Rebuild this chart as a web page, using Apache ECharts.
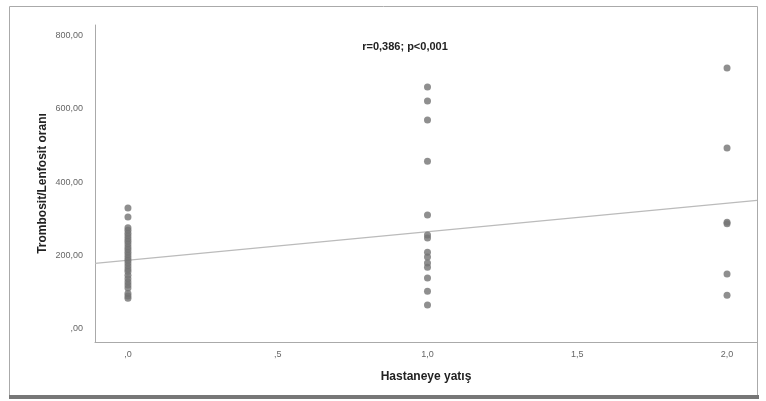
<!DOCTYPE html>
<html>
<head>
<meta charset="utf-8">
<script src="https://cdn.jsdelivr.net/npm/echarts@6/dist/echarts.min.js"></script>
<style>
	html, body { margin: 0; padding: 0; background: #fff; }
	#chart { width: 766px; height: 401px; }
</style>
</head>
<body>
<div id="chart"></div>
<script>
	// değerler
	var group0 = [329, 304, 275, 268, 260, 252, 245, 238, 230, 222, 215, 208, 200, 193, 186, 178, 170, 162, 155, 145, 135, 126, 118, 110, 95, 88, 82];
	var group1 = [660, 622, 570, 457, 310, 255, 247, 208, 195, 178, 167, 137, 101, 63];
	var group2 = [712, 493, 290, 286, 148, 90];
	var xTicks = [0, 0.5, 1, 1.5, 2];
	var yTicks = [0, 200, 400, 600, 800];
	var fitIntercept = 186;
	var fitSlope = 78;
	var xMin = -0.11, xMax = 2.1;

	var points = [];
	group0.forEach(function (v) { points.push([0, v]); });
	group1.forEach(function (v) { points.push([1, v]); });
	group2.forEach(function (v) { points.push([2, v]); });

	function spss(v, d) {
		var s = v.toFixed(d).replace('.', ',');
		if (s.indexOf('0,') === 0) s = s.substring(1);
		return s;
	}

	var myChart = echarts.init(document.getElementById('chart'));
	var option = {
		backgroundColor: '#fff',
		animation: false,
		title: {
			text: 'r=0,386; p<0,001',
			left: 400,
			top: 36,
			textAlign: 'center',
			textStyle: { fontFamily: 'Liberation Sans', fontSize: 11, fontWeight: 'bold', color: '#222' }
		},
		grid: { left: 95, right: 9, top: 25, bottom: 59 },
		xAxis: {
			type: 'value',
			min: xMin,
			max: xMax,
			name: 'Hastaneye yatış',
			nameLocation: 'middle',
			nameGap: 29,
			nameTextStyle: { fontFamily: 'Liberation Sans', fontSize: 12, fontWeight: 'bold', color: '#222' },
			axisLine: { show: true, onZero: false, lineStyle: { color: '#aaa', width: 1 } },
			axisTick: { show: false },
			splitLine: { show: false },
			axisLabel: {
				customValues: xTicks,
				margin: 8,
				fontFamily: 'Liberation Sans', fontSize: 9, color: '#666',
				formatter: function (v) { return spss(v, 1); }
			}
		},
		yAxis: {
			type: 'value',
			min: -38,
			max: 830,
			name: 'Trombosit/Lenfosit oranı',
			nameLocation: 'middle',
			nameGap: 46,
			nameMoveOverlap: false,
			nameTextStyle: { fontFamily: 'Liberation Sans', fontSize: 12, fontWeight: 'bold', color: '#222' },
			axisLine: { show: true, onZero: false, lineStyle: { color: '#aaa', width: 1 } },
			axisTick: { show: false },
			splitLine: { show: false },
			axisLabel: {
				customValues: yTicks,
				margin: 12,
				fontFamily: 'Liberation Sans', fontSize: 9, color: '#666',
				formatter: function (v) { return spss(v, 2); }
			}
		},
		series: [
			{
				type: 'line',
				data: [[xMin, fitIntercept + fitSlope * xMin], [xMax, fitIntercept + fitSlope * xMax]],
				showSymbol: false,
				lineStyle: { color: '#bbb', width: 1.2 },
				z: 1
			},
			{
				type: 'scatter',
				data: points,
				symbolSize: 7,
				itemStyle: { color: '#737373' },
				z: 2
			}
		],
		graphic: [
			{
				type: 'rect',
				shape: { x: 9.5, y: 6.5, width: 748, height: 389 },
				style: { fill: 'none', stroke: '#aaa', lineWidth: 1 },
				silent: true
			},
			{
				type: 'rect',
				shape: { x: 9, y: 395, width: 750, height: 4 },
				style: { fill: '#777' },
				silent: true
			}
		]
	};
	myChart.setOption(option);
</script>
</body>
</html>
